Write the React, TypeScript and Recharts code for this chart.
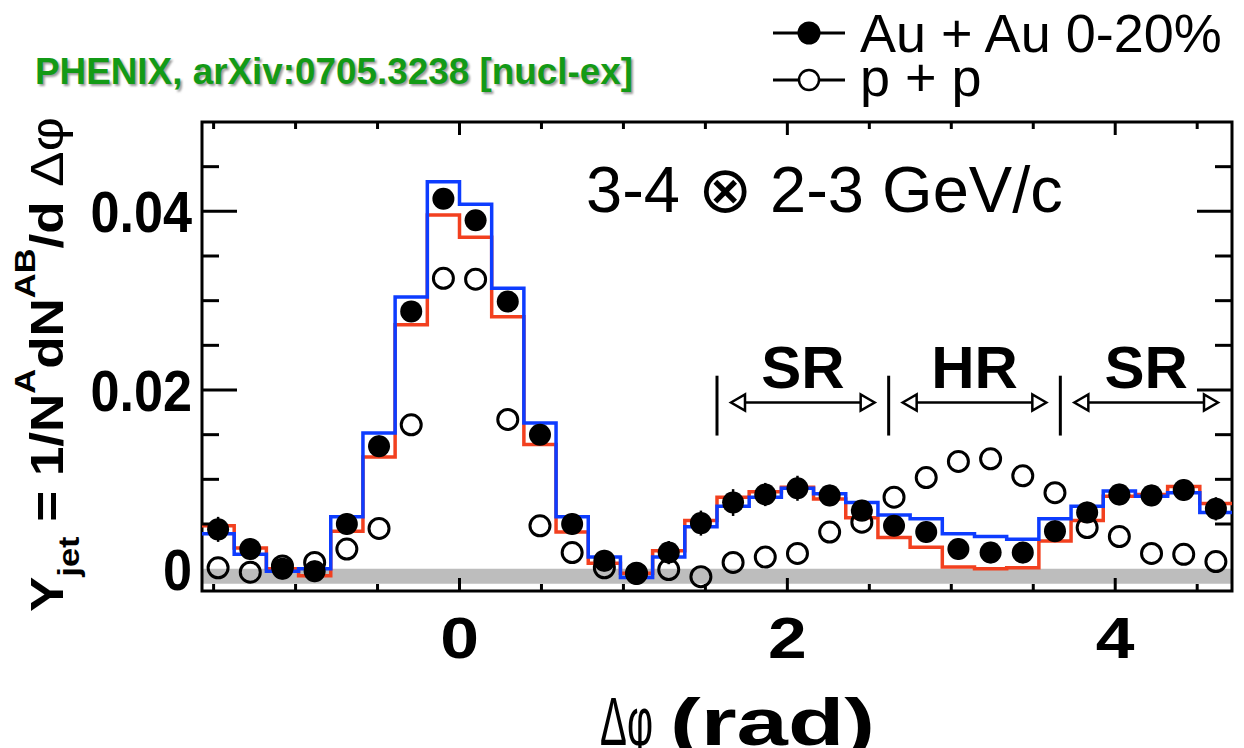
import React from 'react';
import {
  ComposedChart,
  Line,
  Scatter,
  XAxis,
  YAxis,
  ReferenceArea,
  ReferenceLine,
  ErrorBar,
} from 'recharts';

// Δφ binning: 32 bins of width π/16 spanning [-π/2, 3π/2]
const binEdges = [
  -1.5708, -1.3744, -1.1781, -0.9817, -0.7854, -0.589, -0.3927, -0.1963, 0, 0.1963, 0.3927,
  0.589, 0.7854, 0.9817, 1.1781, 1.3744, 1.5708, 1.7671, 1.9635, 2.1598, 2.3562, 2.5525,
  2.7489, 2.9452, 3.1416, 3.3379, 3.5343, 3.7306, 3.927, 4.1233, 4.3197, 4.516, 4.7124,
];
const binCenters = [
  -1.4726, -1.2763, -1.0799, -0.8836, -0.6872, -0.4909, -0.2945, -0.0982, 0.0982, 0.2945,
  0.4909, 0.6872, 0.8836, 1.0799, 1.2763, 1.4726, 1.669, 1.8653, 2.0617, 2.258, 2.4544,
  2.6507, 2.8471, 3.0434, 3.2398, 3.4361, 3.6325, 3.8288, 4.0252, 4.2215, 4.4179, 4.6142,
];

// Au + Au 0-20% jet-pair yield
const auauYield = [
  0.0044, 0.0022, 0.0, -0.0003, 0.005, 0.0137, 0.0288, 0.0414, 0.039, 0.0299, 0.015, 0.005,
  0.0009, -0.0006, 0.0018, 0.0051, 0.0074, 0.0083, 0.009, 0.0082, 0.0065, 0.0048, 0.0041,
  0.0022, 0.0018, 0.0018, 0.0042, 0.0063, 0.0083, 0.0082, 0.0088, 0.0067,
];
const auauError = [
  0.0014, 0.0012, 0.0012, 0.0012, 0.0012, 0.0012, 0.001, 0.001, 0.001, 0.001, 0.0012, 0.0012,
  0.0012, 0.0012, 0.0013, 0.0014, 0.0015, 0.0013, 0.0014, 0.0012, 0.0012, 0.0012, 0.0012,
  0.0012, 0.0012, 0.0012, 0.0012, 0.0012, 0.0012, 0.0012, 0.0012, 0.0013,
];
// p + p reference
const ppYield = [
  0.0001, -0.0004, 0.0003, 0.0007, 0.0022, 0.0045, 0.0161, 0.0325, 0.0324, 0.0167, 0.0048,
  0.0018, 0.0001, -0.0005, -0.0001, -0.0009, 0.0007, 0.0013, 0.0017, 0.0041, 0.0052, 0.008,
  0.0102, 0.012, 0.0123, 0.0104, 0.0085, 0.0046, 0.0036, 0.0017, 0.0016, 0.0008,
];
// systematic (flow) limits of the Au + Au yield, drawn as histograms
const auauLimitRed = [
  0.0048, 0.0023, 0.0, -0.0008, 0.0042, 0.0125, 0.0273, 0.0396, 0.0371, 0.0282, 0.0139, 0.0041,
  0.0006, -0.0005, 0.002, 0.0054, 0.008, 0.0086, 0.0091, 0.0078, 0.0057, 0.0035, 0.0024,
  0.0002, 0.0, 0.0001, 0.0031, 0.0054, 0.0081, 0.0083, 0.0092, 0.0073,
];
const auauLimitBlue = [
  0.0039, 0.0016, -0.0003, 0.0, 0.0058, 0.0152, 0.0304, 0.0433, 0.0408, 0.0314, 0.0163, 0.0058,
  0.0013, -0.001, 0.0013, 0.0047, 0.007, 0.008, 0.009, 0.0084, 0.0074, 0.006, 0.0056, 0.0039,
  0.0036, 0.0033, 0.0056, 0.007, 0.0087, 0.0081, 0.0085, 0.0063,
];

// axis ticks
const xTickValues = [-1.5, -1, -0.5, 0, 0.5, 1, 1.5, 2, 2.5, 3, 3.5, 4, 4.5];
const xTickLabels = [0, 2, 4];
const yTickValues = [0, 0.005, 0.01, 0.015, 0.02, 0.025, 0.03, 0.035, 0.04, 0.045];
const yTickLabels = [0, 0.02, 0.04];

// shoulder / head region annotation
const regionNames = ['SR', 'HR', 'SR'];
const regionFrom = [1.5708, 2.618, 3.6652];
const regionTo = [2.618, 3.6652, 4.7124];
const regionBarLow = 0.0149;
const regionBarHigh = 0.0216;
const regionArrowY = 0.0186;

// zero-level uncertainty band
const zeroBandLow = -0.0017;
const zeroBandHigh = 0;

const X_MIN = -Math.PI / 2;
const X_MAX = (3 * Math.PI) / 2;
const Y_MIN = -0.0025;
const Y_MAX = 0.05;

const W = 1236;
const H = 740;
const X_AXIS_H = 80;
const Y_AXIS_W = 180;
const MARGIN = { top: 114, right: 12, bottom: 157 - X_AXIS_H, left: 194 - Y_AXIS_W };
const PLOT_W = W - 194 - MARGIN.right;
const PLOT_H = H - MARGIN.top - 157;

const FONT = '"Liberation Sans", Arial, Helvetica, sans-serif';
const RED = '#f2401f';
const BLUE = '#0d3cff';

const auauPoints = binCenters.map((x, i) => ({ x, y: auauYield[i], err: auauError[i] }));
const ppPoints = binCenters.map((x, i) => ({ x, y: ppYield[i] }));
const stepRows = binEdges.map((x, i) => ({
  x,
  red: auauLimitRed[Math.min(i, auauLimitRed.length - 1)],
  blue: auauLimitBlue[Math.min(i, auauLimitBlue.length - 1)],
}));

const XTick = (props: any) => {
  const { x, y, payload } = props;
  const v = payload.value;
  const major = xTickLabels.includes(v);
  const len = major ? 13 : 7;
  return (
    <g>
      <line x1={x} y1={y} x2={x} y2={y - len} stroke="#000" strokeWidth={3} />
      <line x1={x} y1={y - PLOT_H} x2={x} y2={y - PLOT_H + len} stroke="#000" strokeWidth={3} />
      {major && (
        <text
          transform={`translate(${x},${y + 67}) scale(1.2,1)`}
          textAnchor="middle"
          fontFamily={FONT}
          fontWeight="bold"
          fontSize={58}
          fill="#000"
        >
          {v}
        </text>
      )}
    </g>
  );
};

const YTick = (props: any) => {
  const { x, y, payload } = props;
  const v = payload.value;
  const major = yTickLabels.includes(v);
  const len = major ? 35 : 17;
  return (
    <g>
      {v !== 0 && (
        <>
          <line x1={x} y1={y} x2={x + len} y2={y} stroke="#000" strokeWidth={3} />
          <line x1={x + PLOT_W - len} y1={y} x2={x + PLOT_W} y2={y} stroke="#000" strokeWidth={3} />
        </>
      )}
      {major && (
        <text
          transform={`translate(${x - 10},${y + 21}) scale(0.9,1)`}
          textAnchor="end"
          fontFamily={FONT}
          fontWeight="bold"
          fontSize={58}
          fill="#000"
        >
          {v === 0 ? '0' : v.toFixed(2)}
        </text>
      )}
    </g>
  );
};

const FilledDot = (props: any) => <circle cx={props.cx} cy={props.cy} r={11} fill="#000" />;
const OpenDot = (props: any) => (
  <circle cx={props.cx} cy={props.cy} r={10} fill="none" stroke="#000" strokeWidth={3} />
);

const RegionArrow = (props: any, name: string) => {
  const { x1, y1, x2 } = props;
  const a = x1 + 14;
  const b = x2 - 14;
  const head = 14;
  const half = 8;
  return (
    <g>
      <line x1={a + head} y1={y1} x2={b - head} y2={y1} stroke="#000" strokeWidth={2.5} />
      <polygon
        points={`${a},${y1} ${a + head},${y1 - half} ${a + head},${y1 + half}`}
        fill="#fff"
        stroke="#000"
        strokeWidth={2.5}
      />
      <polygon
        points={`${b},${y1} ${b - head},${y1 - half} ${b - head},${y1 + half}`}
        fill="#fff"
        stroke="#000"
        strokeWidth={2.5}
      />
      <text
        x={(x1 + x2) / 2}
        y={y1 - 15}
        textAnchor="middle"
        fontFamily={FONT}
        fontWeight="bold"
        fontSize={60}
        fill="#000"
      >
        {name}
      </text>
    </g>
  );
};

export default function App() {
  return (
    <div style={{ position: 'relative', width: W, height: H, background: '#fff' }}>
      <ComposedChart width={W} height={H} margin={MARGIN}>
        <XAxis
          type="number"
          dataKey="x"
          domain={[X_MIN, X_MAX]}
          allowDataOverflow
          ticks={xTickValues}
          interval={0}
          height={X_AXIS_H}
          tickSize={0}
          tickMargin={0}
          tickLine={false}
          axisLine={false}
          tick={XTick}
        />
        <YAxis
          type="number"
          dataKey="y"
          domain={[Y_MIN, Y_MAX]}
          allowDataOverflow
          ticks={yTickValues}
          interval={0}
          width={Y_AXIS_W}
          tickSize={0}
          tickMargin={0}
          tickLine={false}
          axisLine={false}
          tick={YTick}
        />
        <ReferenceArea
          x1={X_MIN}
          x2={X_MAX}
          y1={zeroBandLow}
          y2={zeroBandHigh}
          fill="#bdbdbd"
          fillOpacity={1}
          stroke="none"
        />
        {regionFrom.map((b, i) => (
          <ReferenceLine
            key={`bar-${i}`}
            segment={[
              { x: b, y: regionBarLow },
              { x: b, y: regionBarHigh },
            ]}
            stroke="#000"
            strokeWidth={3}
            ifOverflow="visible"
          />
        ))}
        {regionNames.map((name, i) => (
          <ReferenceLine
            key={`arrow-${i}`}
            segment={[
              { x: regionFrom[i], y: regionArrowY },
              { x: regionTo[i], y: regionArrowY },
            ]}
            ifOverflow="visible"
            shape={(p: any) => RegionArrow(p, name)}
          />
        ))}
        <Scatter data={ppPoints} dataKey="y" shape={OpenDot} isAnimationActive={false} />
        <Scatter data={auauPoints} dataKey="y" shape={FilledDot} isAnimationActive={false}>
          <ErrorBar dataKey="err" direction="y" width={0} stroke="#000" strokeWidth={2.5} />
        </Scatter>
        <Line
          data={stepRows}
          dataKey="red"
          type="stepAfter"
          stroke={RED}
          strokeWidth={3.5}
          dot={false}
          isAnimationActive={false}
        />
        <Line
          data={stepRows}
          dataKey="blue"
          type="stepAfter"
          stroke={BLUE}
          strokeWidth={3.5}
          dot={false}
          isAnimationActive={false}
        />
        <ReferenceArea
          x1={X_MIN}
          x2={X_MAX}
          y1={Y_MIN}
          y2={Y_MAX}
          fill="none"
          stroke="#000"
          strokeWidth={3}
        />
      </ComposedChart>

      <svg
        width={W}
        height={H}
        style={{ position: 'absolute', left: 0, top: 0, pointerEvents: 'none' }}
      >
        <defs>
          <filter id="soft" x="-5%" y="-20%" width="110%" height="140%">
            <feGaussianBlur stdDeviation="1.2" />
          </filter>
        </defs>
        {/* experiment tag */}
        <text
          x={29}
          y={78}
          fontFamily={FONT}
          fontWeight="bold"
          fontSize={36}
          textLength={598}
          lengthAdjust="spacingAndGlyphs"
          fill="#9a9a9a"
          filter="url(#soft)"
        >
          PHENIX, arXiv:0705.3238 [nucl-ex]
        </text>
        <text
          x={27}
          y={76}
          fontFamily={FONT}
          fontWeight="bold"
          fontSize={36}
          textLength={598}
          lengthAdjust="spacingAndGlyphs"
          fill="#139a16"
        >
          PHENIX, arXiv:0705.3238 [nucl-ex]
        </text>

        {/* legend */}
        <line x1={765} y1={25} x2={837} y2={25} stroke="#000" strokeWidth={3} />
        <circle cx={801} cy={25} r={11.5} fill="#000" />
        <text x={852} y={44} fontFamily={FONT} fontSize={54} fill="#000">
          Au + Au 0-20%
        </text>
        <line x1={765} y1={72} x2={837} y2={72} stroke="#000" strokeWidth={3} />
        <circle cx={801} cy={72} r={10} fill="#fff" stroke="#000" strokeWidth={2.5} />
        <text x={852} y={88} fontFamily={FONT} fontSize={54} fill="#000">
          p + p
        </text>

        {/* momentum selection */}
        <text x={578} y={204} fontFamily={FONT} fontSize={65} fill="#000">
          3-4 ⊗ 2-3 GeV/c
        </text>

        {/* y axis title */}
        <text
          transform="translate(55,604) rotate(-90)"
          fontFamily={FONT}
          fontWeight="bold"
          fontSize={46}
          textLength={495}
          lengthAdjust="spacingAndGlyphs"
          fill="#000"
        >
          <tspan>Y</tspan>
          <tspan fontSize={30} dy={16}>
            jet
          </tspan>
          <tspan dy={-16}> = 1/N</tspan>
          <tspan fontSize={30} dy={-28}>
            A
          </tspan>
          <tspan dy={28}>dN</tspan>
          <tspan fontSize={30} dy={-28}>
            AB
          </tspan>
          <tspan dy={28}>/d </tspan>
          <tspan fontWeight="normal">Δφ</tspan>
        </text>

        {/* x axis title */}
        <text
          x={592}
          y={737}
          fontFamily={FONT}
          fontSize={68}
          textLength={53}
          lengthAdjust="spacingAndGlyphs"
          fill="#000"
        >
          Δφ
        </text>
        <text
          x={662}
          y={737}
          fontFamily={FONT}
          fontWeight="bold"
          fontSize={66}
          textLength={205}
          lengthAdjust="spacingAndGlyphs"
          fill="#000"
        >
          (rad)
        </text>
      </svg>
    </div>
  );
}
